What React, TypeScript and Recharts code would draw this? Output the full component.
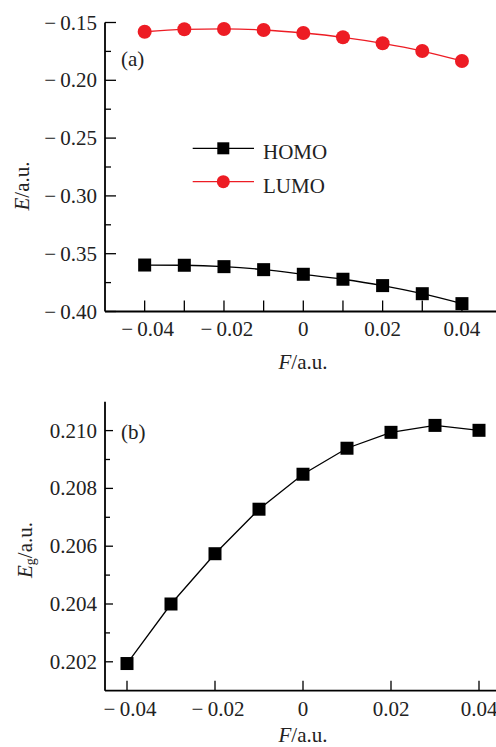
import { LineChart, Line, XAxis, YAxis, Label } from "recharts";

// field strength F (a.u.)
const fieldValues = [-0.04, -0.03, -0.02, -0.01, 0, 0.01, 0.02, 0.03, 0.04];
// panel (a): orbital energies
const homoValues = [-0.3598, -0.36, -0.3612, -0.3638, -0.3678, -0.3721, -0.3776, -0.3846, -0.3932];
const lumoValues = [-0.158, -0.1559, -0.1556, -0.1565, -0.1591, -0.1628, -0.168, -0.1747, -0.1833];
// panel (b): gap
const gapValues = [0.20194, 0.204, 0.20574, 0.20728, 0.20849, 0.20939, 0.20994, 0.21018, 0.21001];

const topXTicks = [-0.04, -0.03, -0.02, -0.01, 0, 0.01, 0.02, 0.03, 0.04];
const topXLabeled = [-0.04, -0.02, 0, 0.02, 0.04];
const topYTicks = [-0.4, -0.375, -0.35, -0.325, -0.3, -0.275, -0.25, -0.225, -0.2, -0.175, -0.15];
const topYMajor = [-0.4, -0.35, -0.3, -0.25, -0.2, -0.15];
const botXTicks = [-0.04, -0.02, 0, 0.02, 0.04];
const botYTicks = [0.202, 0.203, 0.204, 0.205, 0.206, 0.207, 0.208, 0.209, 0.21];
const botYMajor = [0.202, 0.204, 0.206, 0.208, 0.21];

const topData = fieldValues.map((f, i) => ({ f, homo: homoValues[i], lumo: lumoValues[i] }));
const botData = fieldValues.map((f, i) => ({ f, eg: gapValues[i] }));

const FONT = "Liberation Serif";
const FS = 21;
const RED = "#ed1c24";
const AXIS_W = 1.8;

const has = (arr: number[], v: number) => arr.some((a) => Math.abs(a - v) < 1e-9);

const fmt = (v: number, digits: number) => {
  if (Math.abs(v) < 1e-12) return "0";
  return v < 0 ? "\u2212\u2009" + Math.abs(v).toFixed(digits) : v.toFixed(digits);
};

function makeYTick(major: number[], majorLen: number, minorLen: number, digits: number) {
  return (props: any) => {
    const { x, y, payload } = props;
    const isMajor = has(major, payload.value);
    return (
      <g>
        <line x1={x} x2={x + (isMajor ? majorLen : minorLen)} y1={y} y2={y} stroke="#000" strokeWidth={1.3} />
        {isMajor && (
          <text x={x - 8} y={y} textAnchor="end" dominantBaseline="central" fontFamily={FONT} fontSize={FS} fill="#222">
            {fmt(payload.value, digits)}
          </text>
        )}
      </g>
    );
  };
}

function makeXTick(labeled: number[], len: number, gap: number) {
  return (props: any) => {
    const { x, y, payload } = props;
    const show = has(labeled, payload.value);
    return (
      <g>
        <line x1={x} x2={x} y1={y} y2={y - len} stroke="#000" strokeWidth={1.3} />
        {show && (
          <text x={x + (payload.value < 0 ? 3 : 0)} y={y + gap} textAnchor="middle" dominantBaseline="central" fontFamily={FONT} fontSize={FS} fill="#222">
            {fmt(payload.value, 2)}
          </text>
        )}
      </g>
    );
  };
}

const Square = (size: number) => (p: any) => (
  <rect key={`sq-${p.index}`} x={p.cx - size / 2} y={p.cy - size / 2} width={size} height={size} fill="#000" />
);
const Circle = (r: number) => (p: any) => (
  <circle key={`ci-${p.index}`} cx={p.cx} cy={p.cy} r={r} fill={RED} />
);

export default function App() {
  return (
    <div style={{ position: "absolute", left: 0, top: 0, width: 496, height: 747, overflow: "hidden", background: "#fff" }}>
      <div style={{ position: "absolute", left: 0, top: 0 }}>
        <LineChart width={510} height={380} data={topData} margin={{ top: 22.5, right: 8.4, left: 0, bottom: 0 }}>
          <XAxis
            dataKey="f"
            type="number"
            domain={[-0.05, 0.05]}
            ticks={topXTicks}
            interval={0}
            height={68.5}
            tickSize={0}
            tickMargin={0}
            tickLine={false}
            axisLine={{ stroke: "#000", strokeWidth: AXIS_W }}
            tick={makeXTick(topXLabeled, 11, 17.5)}
          >
            <Label
              content={() => (
                <text x={303} y={362} textAnchor="middle" dominantBaseline="central" fontFamily={FONT} fontSize={FS} fill="#222">
                  <tspan fontStyle="italic">F</tspan>/a.u.
                </text>
              )}
            />
          </XAxis>
          <XAxis xAxisId="top" orientation="top" dataKey="f" type="number" domain={[-0.05, 0.05]} height={0} tick={false} tickLine={false} axisLine={{ stroke: "#000", strokeWidth: AXIS_W }} />
          <YAxis
            type="number"
            domain={[-0.4, -0.15]}
            ticks={topYTicks}
            interval={0}
            width={105}
            tickSize={0}
            tickMargin={0}
            tickLine={false}
            axisLine={{ stroke: "#000", strokeWidth: AXIS_W }}
            tick={makeYTick(topYMajor, 11, 6, 2)}
          >
            <Label
              content={() => (
                <text x={21.7} y={186} transform="rotate(-90 21.7 186)" textAnchor="middle" dominantBaseline="central" fontFamily={FONT} fontSize={FS} fill="#222">
                  <tspan fontStyle="italic">E</tspan>/a.u.
                </text>
              )}
            />
          </YAxis>
          <Line dataKey="homo" type="monotone" stroke="#000" strokeWidth={1.3} dot={Square(13)} isAnimationActive={false} />
          <Line dataKey="lumo" type="monotone" stroke={RED} strokeWidth={1.3} dot={Circle(7)} isAnimationActive={false} />
        </LineChart>
        <svg width={496} height={380} style={{ position: "absolute", left: 0, top: 0, pointerEvents: "none" }}>
          <text x={121} y={59} dominantBaseline="central" fontFamily={FONT} fontSize={FS} fill="#222">(a)</text>
          <line x1={192.7} x2={254} y1={148.3} y2={148.3} stroke="#000" strokeWidth={1.3} />
          <rect x={223.3 - 6} y={148.3 - 6} width={12} height={12} fill="#000" />
          <text x={263} y={152} dominantBaseline="central" fontFamily={FONT} fontSize={FS} fill="#222">HOMO</text>
          <line x1={192.7} x2={254} y1={181.7} y2={181.7} stroke={RED} strokeWidth={1.3} />
          <circle cx={223.3} cy={181.7} r={6.5} fill={RED} />
          <text x={263} y={185.5} dominantBaseline="central" fontFamily={FONT} fontSize={FS} fill="#222">LUMO</text>
        </svg>
      </div>

      <div style={{ position: "absolute", left: 0, top: 380 }}>
        <LineChart width={510} height={367} data={botData} margin={{ top: 21.7, right: 9, left: 0, bottom: 0 }}>
          <XAxis
            dataKey="f"
            type="number"
            domain={[-0.045, 0.045]}
            ticks={botXTicks}
            interval={0}
            height={56.3}
            tickSize={0}
            tickMargin={0}
            tickLine={false}
            axisLine={{ stroke: "#000", strokeWidth: AXIS_W }}
            tick={makeXTick(botXTicks, 10, 18.3)}
          >
            <Label
              content={() => (
                <text x={303} y={355} textAnchor="middle" dominantBaseline="central" fontFamily={FONT} fontSize={FS} fill="#222">
                  <tspan fontStyle="italic">F</tspan>/a.u.
                </text>
              )}
            />
          </XAxis>
          <XAxis xAxisId="top" orientation="top" dataKey="f" type="number" domain={[-0.045, 0.045]} height={0} tick={false} tickLine={false} axisLine={{ stroke: "#000", strokeWidth: AXIS_W }} />
          <YAxis
            type="number"
            domain={[0.201, 0.211]}
            ticks={botYTicks}
            interval={0}
            width={105}
            tickSize={0}
            tickMargin={0}
            tickLine={false}
            axisLine={{ stroke: "#000", strokeWidth: AXIS_W }}
            tick={makeYTick(botYMajor, 8, 5, 3)}
          >
            <Label
              content={() => (
                <text x={25} y={170} transform="rotate(-90 25 170)" textAnchor="middle" dominantBaseline="central" fontFamily={FONT} fontSize={FS} fill="#222">
                  <tspan fontStyle="italic">E</tspan>
                  <tspan fontSize={14} dy={5}>g</tspan>
                  <tspan dy={-5}>/a.u.</tspan>
                </text>
              )}
            />
          </YAxis>
          <Line dataKey="eg" type="linear" stroke="#000" strokeWidth={1.3} dot={Square(13)} isAnimationActive={false} />
        </LineChart>
        <svg width={496} height={367} style={{ position: "absolute", left: 0, top: 0, pointerEvents: "none" }}>
          <text x={121} y={52} dominantBaseline="central" fontFamily={FONT} fontSize={FS} fill="#222">(b)</text>
        </svg>
      </div>
    </div>
  );
}
